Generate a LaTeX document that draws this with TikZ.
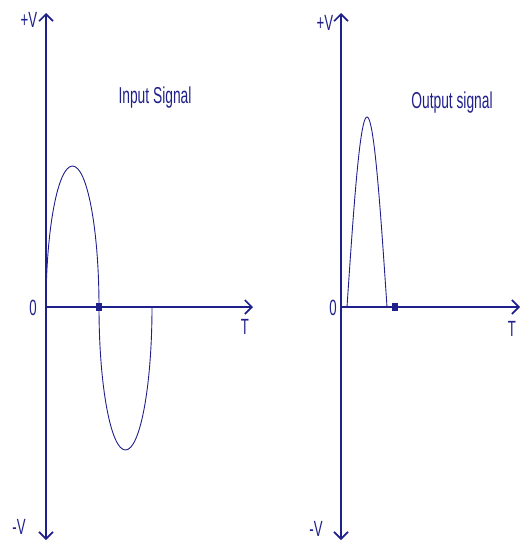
\documentclass[tikz,border=0pt]{standalone}
\usepackage{fontspec}
\newfontfamily\narrowsans[FakeStretch=0.6]{Liberation Sans}
\usetikzlibrary{arrows.meta}
\definecolor{navyline}{RGB}{32,32,140}

\begin{document}
\begin{tikzpicture}[x=1pt,y=-1pt,
  every node/.style={inner sep=0pt,text=navyline},
  font=\narrowsans\fontsize{22}{24}\selectfont,
  axis/.style={draw=navyline,line width=1.6pt,-{Straight Barb[length=7pt,width=14pt,line width=1.6pt]}},
  wave/.style={draw=navyline,line width=.9pt},
  markbox/.style={fill=navyline,minimum width=6pt,minimum height=8pt},
  title/.style={font=\narrowsans\fontsize{23}{25}\selectfont}]
\path[use as bounding box] (0,0) rectangle (521,546);

% input signal
\coordinate (inO) at (46,307);
\coordinate (inTop) at (46,13);
\coordinate (inBot) at (46,540);
\coordinate (inEnd) at (253,307);
\draw[axis] (inO) -- (inTop);
\draw[axis] (inO) -- (inBot);
\draw[axis] (inO) -- (inEnd);
\draw[wave] (inO) arc[start angle=180,end angle=360,x radius=26.5,y radius=141]
  arc[start angle=180,end angle=0,x radius=26.5,y radius=143];
\node[markbox] (inMark) at (99,307) {};
\node (inPlus) at (29,20) {+V};
\node (inMinus) at (19,527) {-V};
\node (inZero) at (33,308) {0};
\node (inT) at (245,327) {T};
\node[title] (inTitle) at (155,98) {Input Signal};

% output signal
\coordinate (outO) at (341,307);
\coordinate (outTop) at (341,13);
\coordinate (outBot) at (341,540);
\coordinate (outEnd) at (520,307);
\draw[axis] (outO) -- (outTop);
\draw[axis] (outO) -- (outBot);
\draw[axis] (outO) -- (outEnd);
\draw[wave] plot[domain=0:180,samples=50,smooth] ({347+40*\x/180},{307-190*sin(\x)});
\node[markbox] (outMark) at (395,307) {};
\node (outPlus) at (325,23) {+V};
\node (outMinus) at (316,529) {-V};
\node (outZero) at (333,308) {0};
\node (outT) at (512,329) {T};
\node[title] (outTitle) at (452,103) {Output signal};
\end{tikzpicture}
\end{document}
